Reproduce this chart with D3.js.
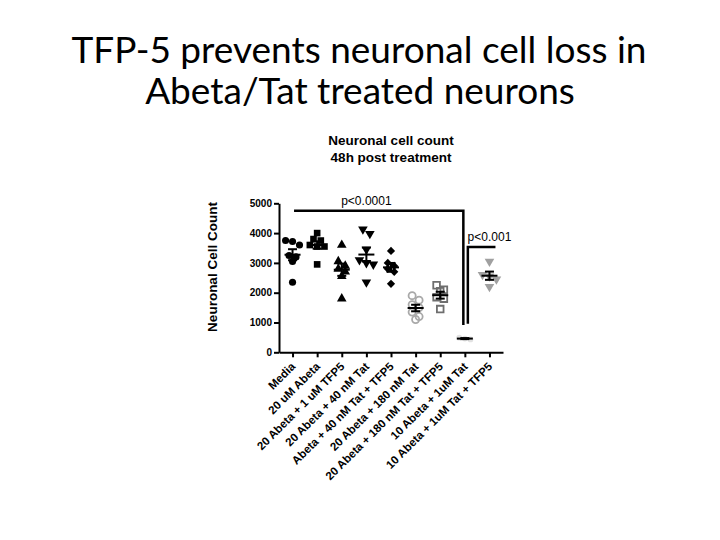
<!DOCTYPE html>
<html>
<head>
<meta charset="utf-8">
<script src="https://cdn.jsdelivr.net/npm/d3@7"></script>
<style>
body { margin: 0; background: #fff; }
</style>
</head>
<body>
<script>
// groups on the x axis
var groups = ["Media", "20 uM Abeta", "20 Abeta + 1 uM TFP5", "20 Abeta + 40 nM Tat",
  "Abeta + 40 nM Tat + TFP5", "20 Abeta + 180 nM Tat", "20 Abeta + 180 nM Tat + TFP5",
  "10 Abeta + 1uM Tat", "10 Abeta + 1uM Tat  + TFP5"];

// cell counts per well
var media        = [3750, 3720, 3600, 3250, 3200, 3050, 2350];
var abeta20      = [4000, 3800, 3750, 3600, 3550, 3550, 2950];
var abetaTfp5    = [3600, 3050, 2900, 2800, 2700, 2550, 1800];
var tat40        = [4130, 3980, 3450, 3100, 3000, 2950, 2350];
var tat40Tfp5    = [3400, 3000, 2900, 2800, 2700, 2300];
var tat180       = [1900, 1750, 1600, 1500, 1350, 1200, 1100];
var tat180Tfp5   = [2250, 2100, 2050, 1850, 1800, 1450];
var tat1uM       = [490, 460, 430];
var tat1uMTfp5   = [3050, 2600, 2550, 2450, 2200];
var seriesValues = [media, abeta20, abetaTfp5, tat40, tat40Tfp5, tat180, tat180Tfp5, tat1uM, tat1uMTfp5];

var yTicks = [0, 1000, 2000, 3000, 4000, 5000];

// significance brackets: from group, to group, level, drop-down level, label group
var brackets = [
  {from: 0, to: 7, level: 4750, drop: 920, labelAt: 3, label: "p<0.0001"},
  {from: 7, to: 8, level: 3530, drop: 960, labelAt: 8, label: "p<0.001"}
];

var markers = [
  {shape: "circle",   fill: "#000",    stroke: "none",    size: 40},
  {shape: "square",   fill: "#000",    stroke: "none",    size: 44},
  {shape: "triangle", fill: "#000",    stroke: "none",    size: 40},
  {shape: "triDown",  fill: "#000",    stroke: "none",    size: 40},
  {shape: "diamond",  fill: "#000",    stroke: "none",    size: 34},
  {shape: "circle",   fill: "none",    stroke: "#a9a9a9", size: 40},
  {shape: "square",   fill: "none",    stroke: "#6e6e6e", size: 44},
  {shape: "circle",   fill: "#e2e2e2", stroke: "none",    size: 26},
  {shape: "triDown",  fill: "#a0a0a0", stroke: "none",    size: 40}
];

var W = 720, H = 540;
var svg = d3.select("body").append("svg").attr("width", W).attr("height", H)
  .style("font-family", "'Liberation Sans', Arial, sans-serif");
svg.append("rect").attr("width", W).attr("height", H).attr("fill", "#fff");

// slide title
var title = svg.append("g").attr("font-family", "Lato, 'Open Sans', sans-serif")
  .attr("font-size", "37px").attr("text-anchor", "middle").attr("fill", "#000");
title.append("text").attr("x", 359).attr("y", 63).text("TFP-5 prevents neuronal cell loss in");
title.append("text").attr("x", 360).attr("y", 104).text("Abeta/Tat treated neurons");

// chart title
var sub = svg.append("g").attr("font-size", "13.5px").attr("font-weight", "bold").attr("text-anchor", "middle");
sub.append("text").attr("x", 391).attr("y", 145).text("Neuronal cell count");
sub.append("text").attr("x", 391).attr("y", 162).text("48h post treatment");

var x = d3.scalePoint().domain(d3.range(groups.length)).range([279, 503]).padding(0.55);
var y = d3.scaleLinear().domain([0, 5000]).range([352.3, 203.3]);

// y axis
var yAxis = svg.append("g").attr("transform", "translate(279,0)")
  .call(d3.axisLeft(y).tickValues(yTicks).tickSize(5).tickSizeOuter(0).tickPadding(2).tickFormat(d3.format("d")));
yAxis.select(".domain").attr("stroke-width", 2);
yAxis.selectAll(".tick line").attr("stroke-width", 2);
yAxis.selectAll("text").attr("font-size", "10px").attr("font-weight", "bold")
  .attr("font-family", "'Liberation Sans', Arial, sans-serif");

svg.append("text").attr("transform", "translate(217,267) rotate(-90)")
  .attr("text-anchor", "middle").attr("font-size", "13.5px").attr("font-weight", "bold")
  .text("Neuronal  Cell Count");

// x axis
var xAxis = svg.append("g").attr("transform", "translate(0," + y(0) + ")")
  .call(d3.axisBottom(x).tickSize(5).tickSizeOuter(0).tickFormat(function(i) { return groups[i]; }));
xAxis.select(".domain").attr("stroke-width", 2);
xAxis.selectAll(".tick line").attr("stroke-width", 2);
xAxis.selectAll("text")
  .attr("x", 0).attr("y", 0).attr("dy", 0)
  .attr("text-anchor", "end")
  .attr("transform", "translate(3,15) rotate(-45)")
  .attr("font-size", "11.5px").attr("font-weight", "bold")
  .attr("font-family", "'Liberation Sans', Arial, sans-serif");

// symbol paths
var symType = {circle: d3.symbolCircle, square: d3.symbolSquare, triangle: d3.symbolTriangle,
  triDown: d3.symbolTriangle, diamond: d3.symbolSquare};
var rot = {circle: 0, square: 0, triangle: 0, triDown: 180, diamond: 45};

// scatter points sideways when they overlap (rows centred like Prism does)
function spread(vals, step) {
  var pts = vals.map(function(v) { return {v: v, py: y(v)}; })
    .sort(function(a, b) { return a.py - b.py; });
  var rows = [], row = null;
  pts.forEach(function(p) {
    if (row && p.py - row[0].py < step * 0.8) row.push(p);
    else { row = [p]; rows.push(row); }
  });
  rows.forEach(function(r) {
    r.forEach(function(p, j) { p.dx = (j - (r.length - 1) / 2) * step; });
  });
  return pts;
}

var plot = svg.append("g");
seriesValues.forEach(function(vals, i) {
  var m = markers[i];
  var step = Math.sqrt(m.size) * 1.1;
  var g = plot.append("g");
  g.selectAll("path").data(spread(vals, step)).enter().append("path")
    .attr("d", d3.symbol(symType[m.shape], m.size)())
    .attr("transform", function(d) {
      return "translate(" + (x(i) + d.dx) + "," + d.py + ") rotate(" + rot[m.shape] + ")";
    })
    .attr("fill", m.fill)
    .attr("stroke", m.stroke)
    .attr("stroke-width", m.stroke == "none" ? 0 : 1.8);
});

// mean and SEM bars
var bars = plot.append("g").attr("stroke", "#000").attr("stroke-width", 2);
seriesValues.forEach(function(vals, i) {
  var mean = d3.mean(vals);
  var sem = d3.deviation(vals) / Math.sqrt(vals.length);
  var cx = x(i);
  bars.append("line").attr("x1", cx - 8).attr("x2", cx + 8).attr("y1", y(mean)).attr("y2", y(mean));
  bars.append("line").attr("x1", cx).attr("x2", cx).attr("y1", y(mean + sem)).attr("y2", y(mean - sem));
  bars.append("line").attr("x1", cx - 4.5).attr("x2", cx + 4.5).attr("y1", y(mean + sem)).attr("y2", y(mean + sem));
  bars.append("line").attr("x1", cx - 4.5).attr("x2", cx + 4.5).attr("y1", y(mean - sem)).attr("y2", y(mean - sem));
});

// significance brackets
var br = svg.append("g");
var b0 = brackets[0], b1 = brackets[1];
br.append("path")
  .attr("d", "M" + (x(b0.from) + 1.5) + "," + y(b0.level) + "H" + (x(b0.to) - 1.5) + "V" + y(b0.drop))
  .attr("fill", "none").attr("stroke", "#000").attr("stroke-width", 2.5);
br.append("path")
  .attr("d", "M" + (x(b1.from) + 3) + "," + y(b1.drop) + "V" + y(b1.level) + "H" + (x(b1.to) + 6))
  .attr("fill", "none").attr("stroke", "#000").attr("stroke-width", 2.5);
br.selectAll("text").data(brackets).enter().append("text")
  .attr("x", function(d) { return x(d.labelAt); })
  .attr("y", function(d) { return y(d.level) - 6; })
  .attr("text-anchor", "middle").attr("font-size", "12px")
  .text(function(d) { return d.label; });
</script>
</body>
</html>
